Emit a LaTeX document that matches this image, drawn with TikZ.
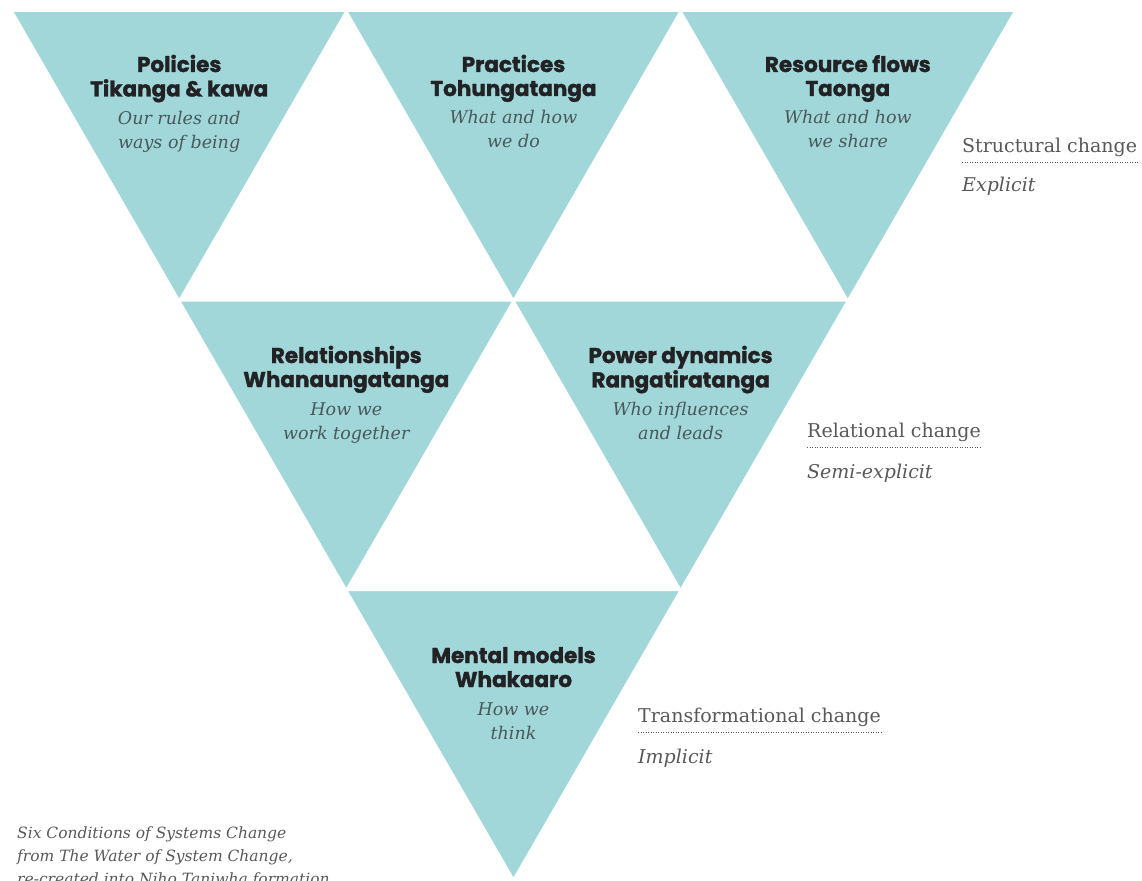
\documentclass[tikz,border=0pt]{standalone}
\usepackage{fontspec}
\newfontfamily\headfont{Poppins}[BoldFeatures={FakeBold=1.5}]
\newfontfamily\slabfont{DejaVu Serif}

\definecolor{nihoteal}{RGB}{162,215,218}
\definecolor{headgray}{RGB}{34,34,36}
\definecolor{descgray}{RGB}{72,88,90}
\definecolor{sidegray}{RGB}{88,88,88}

\tikzset{
	niho/.style={fill=nihoteal,draw=white,line width=2pt},
	tritext/.style={anchor=base,inner sep=0pt,font=\fontsize{21.5}{24}\selectfont},
	sidelabel/.style={anchor=base west,inner sep=0pt,text=sidegray,font=\slabfont\fontsize{19}{24}\selectfont},
	sidenote/.style={anchor=base west,inner sep=0pt,text=sidegray,font=\slabfont\itshape\fontsize{19}{24}\selectfont},
	dotrule/.style={sidegray,line width=1pt,dash pattern=on 1pt off 1.5pt}
}

\newcommand{\nihotitle}[4]{\begin{tabular}[t]{@{}c@{}}
	\textcolor{headgray}{\headfont\bfseries #1}\\
	\textcolor{headgray}{\headfont\bfseries #2}\\[4pt]
	\textcolor{descgray}{\slabfont\itshape\fontsize{17.5}{24}\selectfont #3}\\
	\textcolor{descgray}{\slabfont\itshape\fontsize{17.5}{24}\selectfont #4}
\end{tabular}}

\begin{document}
\begin{tikzpicture}[x=1pt,y=-1pt]
		\useasboundingbox (0,0) rectangle (1142,880);
		
		% top row
		\draw[niho] (12,11) -- (346.3,11) -- (179.2,300.5) -- (12,11);
		\draw[niho] (346.3,11) -- (680.6,11) -- (513.5,300.5) -- (346.3,11);
		\draw[niho] (680.6,11) -- (1014.9,11) -- (847.8,300.5) -- (680.6,11);
		
		% middle row
		\draw[niho] (179.2,300.5) -- (513.5,300.5) -- (346.3,590) -- (179.2,300.5);
		\draw[niho] (513.5,300.5) -- (847.8,300.5) -- (680.6,590) -- (513.5,300.5);
		
		% bottom row
		\draw[niho] (346.3,590) -- (680.6,590) -- (513.5,879.5) -- (346.3,590);
		
		\node[tritext] (policies) at (179.2,72){\nihotitle{Policies}{Tikanga \& kawa}{Our rules and}{ways of being}};
		\node[tritext] (practices) at (513.5,72){\nihotitle{Practices}{Tohungatanga}{What and how}{we do}};
		\node[tritext] (resources) at (847.8,72){\nihotitle{Resource flows}{Taonga}{What and how}{we share}};
		
		\node[tritext] (relationships) at (346.3,363){\nihotitle{Relationships}{Whanaungatanga}{How we}{work together}};
		\node[tritext] (power) at (680.6,363){\nihotitle{Power dynamics}{Rangatiratanga}{Who influences}{and leads}};
		
		\node[tritext] (mental) at (513.5,663){\nihotitle{Mental models}{Whakaaro}{How we}{think}};
		
		% levels of change
		\node[sidelabel] (structural) at (962,152){Structural change};
		\draw[dotrule] ([yshift=-10pt]structural.base west) -- ([yshift=-10pt]structural.base east);
		\node[sidenote] (explicit) at (962,191){Explicit};
		
		\node[sidelabel] (relational) at (807,437){Relational change};
		\draw[dotrule] ([yshift=-10pt]relational.base west) -- ([yshift=-10pt]relational.base east);
		\node[sidenote] (semiexplicit) at (807,478){Semi-explicit};
		
		\node[sidelabel] (transformational) at (638,722){Transformational change};
		\draw[dotrule] ([yshift=-10pt]transformational.base west) -- ([yshift=-10pt]transformational.base east);
		\node[sidenote] (implicit) at (638,763){Implicit};
		
		\node[anchor=base west,inner sep=0pt,text=sidegray,font=\slabfont\itshape\fontsize{15.5}{23}\selectfont] (source) at (17,838){\begin{tabular}[t]{@{}l@{}}Six Conditions of Systems Change\\from The Water of System Change,\\re-created into Niho Taniwha formation\end{tabular}};
	\end{tikzpicture}
\end{document}
